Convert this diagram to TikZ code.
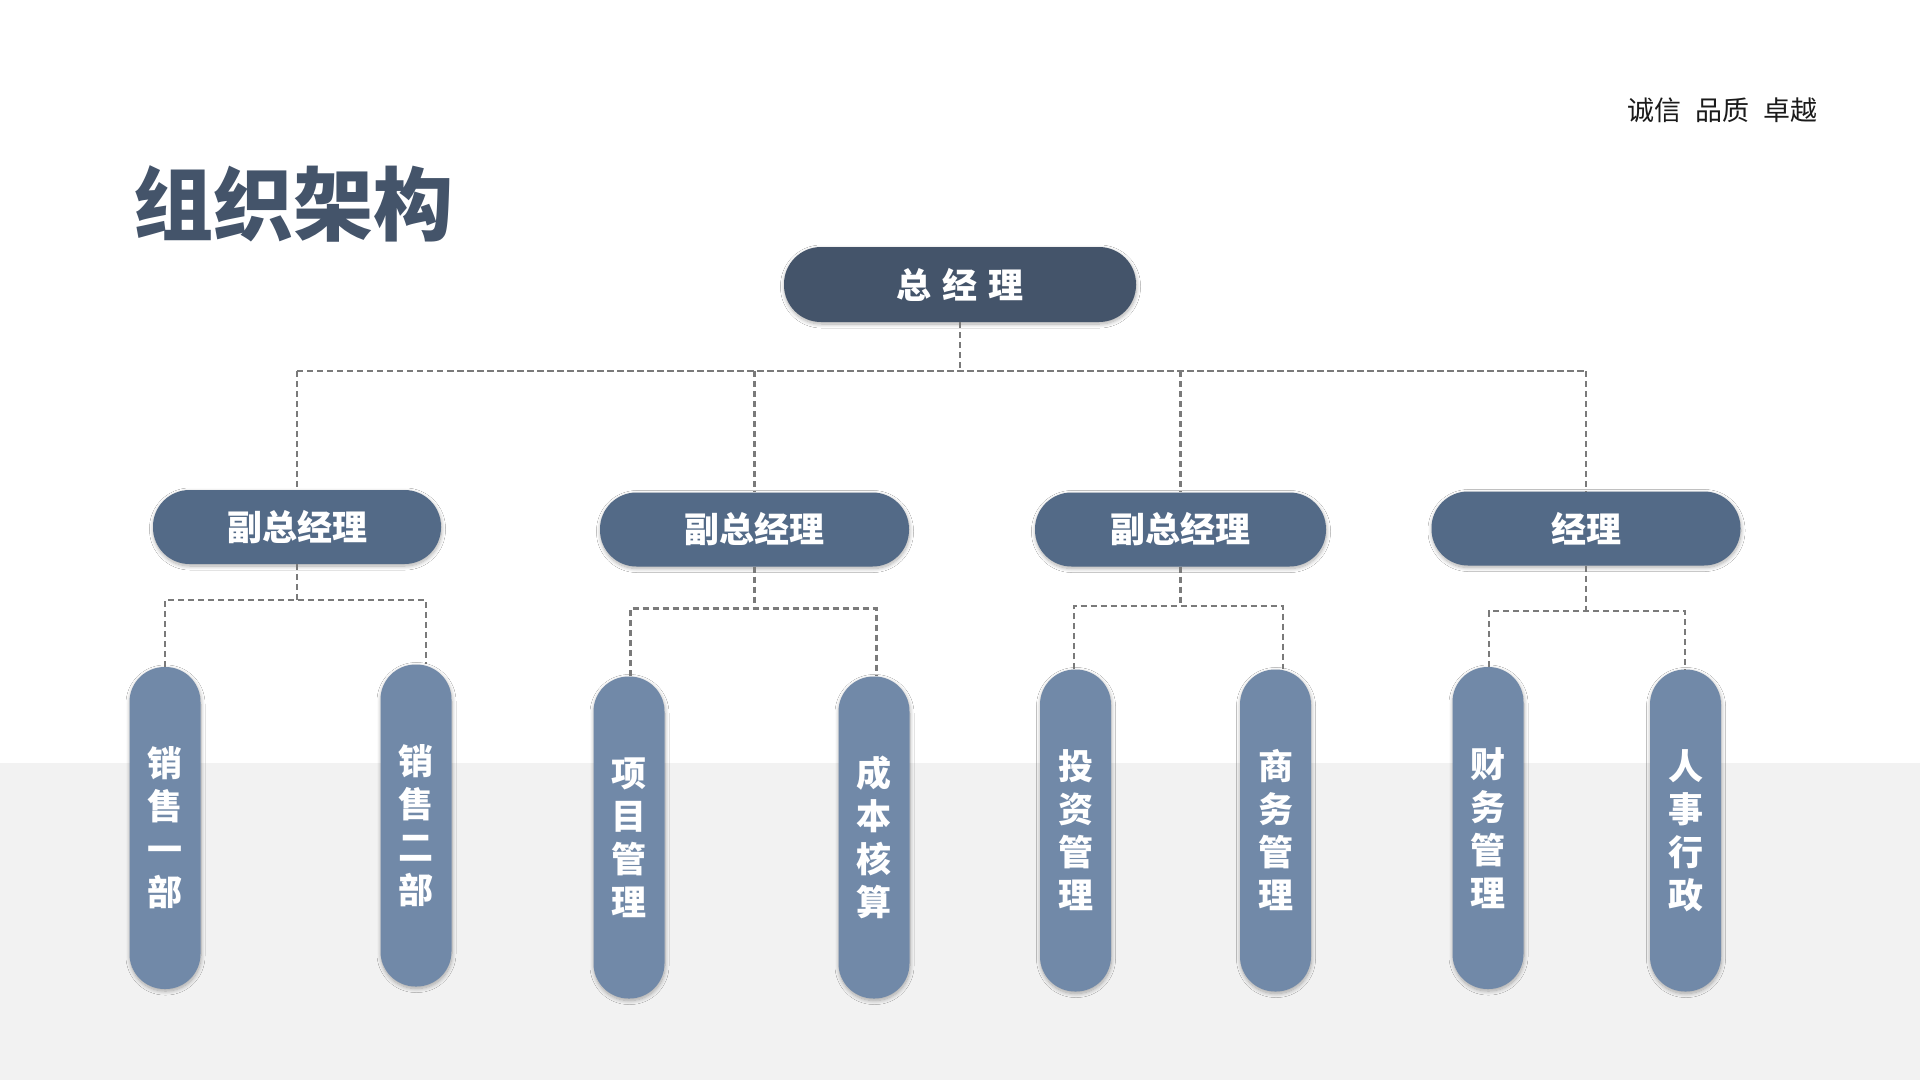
\documentclass[tikz,border=0pt]{standalone}
\usepackage{fontspec}
\setmainfont{Noto Sans CJK SC}
\usetikzlibrary{shadows.blur}
\definecolor{topc}{HTML}{44546A}
\definecolor{midc}{HTML}{536A87}
\definecolor{pillc}{HTML}{7189A8}
\definecolor{bgc}{HTML}{F2F2F2}
\definecolor{linec}{HTML}{7A7A7A}
\definecolor{tagc}{HTML}{1A1A1A}
\begin{document}
\begin{tikzpicture}[x=1pt,y=-1pt,
 conn/.style={draw=linec, line width=2.1pt, dash pattern=on 6pt off 4pt},
 shad/.style={blur shadow={shadow xshift=0.5pt, shadow yshift=-2pt, shadow blur radius=4pt, shadow blur steps=10, shadow opacity=32}},
 topbox/.style={shad, fill=topc, text=white, rounded corners=37pt, minimum width=352pt, minimum height=75pt, inner sep=0pt, font=\fontsize{35}{40}\selectfont\bfseries},
 midbox/.style={shad, fill=midc, text=white, rounded corners=36.5pt, minimum height=74pt, inner sep=0pt, font=\fontsize{35}{40}\selectfont\bfseries},
 pill/.style={shad, fill=pillc, text=white, rounded corners=35pt, minimum width=71pt, minimum height=322pt, inner sep=0pt, align=center, font=\fontsize{35}{43}\selectfont\bfseries}]
\useasboundingbox (0,0) rectangle (1920,1080);
\fill[white] (0,0) rectangle (1920,763);
\fill[bgc] (0,763) rectangle (1920,1080);

% title and tagline
\node[anchor=west, inner sep=0pt, text=topc, font=\fontsize{80}{90}\selectfont\bfseries] (title) at (133,204) {组织架构};
\node[anchor=west, inner sep=0pt, text=tagc, font=\fontsize{27}{30}\selectfont] (tag) at (1627,110) {诚信\hspace{14pt}品质\hspace{14pt}卓越};

% top node
\node[topbox] (gm) at (960,284.5) {总\hspace{11pt}经\hspace{11pt}理};

% second row
\node[midbox, minimum width=288pt] (v1) at (297,527) {副总经理};
\node[midbox, minimum width=309pt] (v2) at (754.5,529.5) {副总经理};
\node[midbox, minimum width=291pt] (v3) at (1180.5,529.5) {副总经理};
\node[midbox, minimum width=309pt] (v4) at (1586,528.5) {经理};

% third row
\node[pill] (p1) at (165,828) {销\\售\\一\\部};
\node[pill] (p2) at (416,825.5) {销\\售\\二\\部};
\node[pill] (p3) at (629,837.5) {项\\目\\管\\理};
\node[pill] (p4) at (874,837.5) {成\\本\\核\\算};
\node[pill] (p5) at (1075.5,830.5) {投\\资\\管\\理};
\node[pill] (p6) at (1275.5,830.5) {商\\务\\管\\理};
\node[pill] (p7) at (1488,828) {财\\务\\管\\理};
\node[pill] (p8) at (1685.5,830.5) {人\\事\\行\\政};

% top level connectors
\coordinate (hb) at (0,371);
\coordinate (hbs) at (453,371);
\draw[conn] (gm.south) -- (gm.south |- hb);
\draw[conn] (v1.north |- hb) -- (v4.north |- hb);
\draw[conn, dash phase=5pt] (hbs) -- (v4.north |- hb);
\foreach \v in {v1,v2,v3,v4} \draw[conn] (\v.north |- hb) -- (\v.north);

% group brackets
\coordinate (b1l) at (165,600);  \coordinate (b1r) at (426,600);
\coordinate (b2l) at (630.5,608.5); \coordinate (b2r) at (876.5,608.5);
\coordinate (b3l) at (1074,606); \coordinate (b3r) at (1283,606);
\coordinate (b4l) at (1489,611); \coordinate (b4r) at (1685,611);

\draw[conn] (v1.south) -- (v1.south |- b1l);
\draw[conn] (b1l |- p1.north) -- (b1l) -- (b1r) -- (b1r |- p2.north);
\draw[conn] (v2.south) -- (v2.south |- b2l);
\draw[conn] (b2l |- p3.north) -- (b2l) -- (b2r) -- (b2r |- p4.north);
\draw[conn] (v3.south) -- (v3.south |- b3l);
\draw[conn] (b3l |- p5.north) -- (b3l) -- (b3r) -- (b3r |- p6.north);
\draw[conn] (v4.south) -- (v4.south |- b4l);
\draw[conn] (b4l |- p7.north) -- (b4l) -- (b4r) -- (b4r |- p8.north);
\end{tikzpicture}
\end{document}
